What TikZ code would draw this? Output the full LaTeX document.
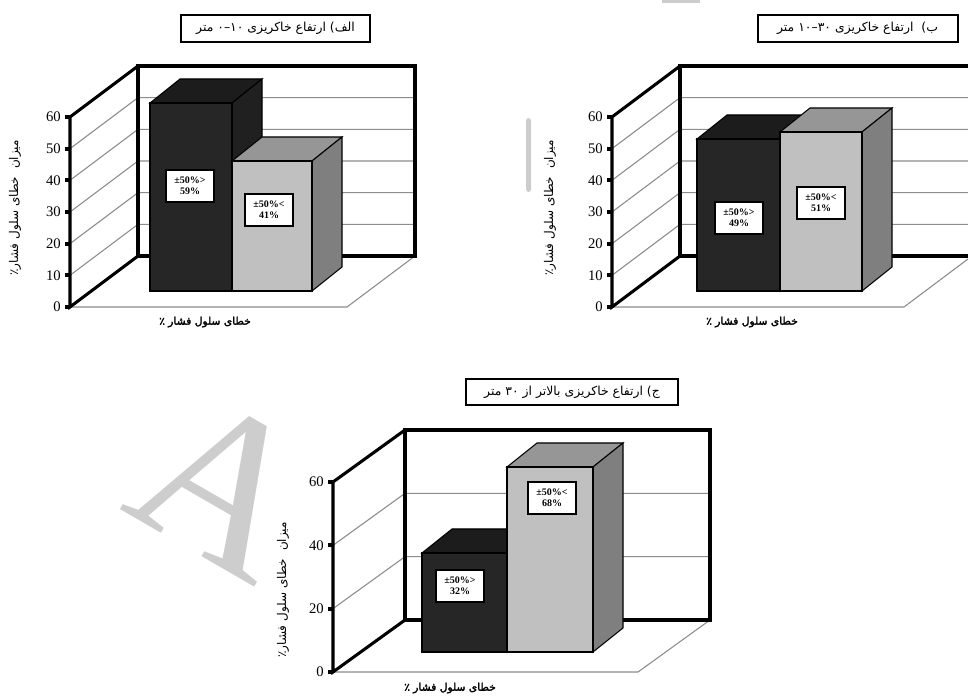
\documentclass[tikz,border=0pt]{standalone}
\usepackage{fontspec}
\setmainfont{Liberation Serif}
\newfontfamily\fa[Script=Arabic]{DejaVu Sans}
\newfontfamily\fab[Script=Arabic,FakeBold=2.5]{DejaVu Sans}
\TeXXeTstate=1

\definecolor{darkfront}{HTML}{262626}
\definecolor{darktop}{HTML}{1C1C1C}
\definecolor{darkside}{HTML}{202020}
\definecolor{lightfront}{HTML}{C0C0C0}
\definecolor{lighttop}{HTML}{969696}
\definecolor{lightside}{HTML}{7F7F7F}
\definecolor{gridgray}{HTML}{8C8C8C}
\definecolor{wmgray}{HTML}{CDCDCD}

\tikzset{
  frame/.style={line width=2.3pt, line join=miter},
  gridln/.style={draw=gridgray, line width=0.8pt},
  tickmk/.style={line width=3pt},
  ticklbl/.style={anchor=east, inner sep=0pt, font=\fontsize{11}{13}\selectfont},
  barln/.style={draw=black, line width=0.8pt},
  vallbl/.style={draw, fill=white, line width=1.3pt, align=center, inner sep=1pt,
    minimum width=36pt, minimum height=24pt,
    font=\bfseries\fontsize{7.5}{8.5}\selectfont},
  ttl/.style={draw, line width=1.5pt, inner sep=2pt, minimum height=20pt,
    font=\fontsize{9.3}{11}\selectfont},
  ylbl/.style={rotate=90, inner sep=0pt, font=\fontsize{9}{11}\selectfont},
  xlbl/.style={inner sep=0pt, font=\fontsize{8}{10}\selectfont},
}

% column with front face, top face and right side face
% #1 left x, #2 right x, #3 top y, #4 bottom y, #5 front, #6 top, #7 side
\newcommand\drawcol[7]{%
  \filldraw[barln, fill=#6] (#1,#3) -- ({#1+30},{#3-24}) -- ({#2+30},{#3-24}) -- (#2,#3) -- cycle;
  \filldraw[barln, fill=#7] (#2,#3) -- ({#2+30},{#3-24}) -- ({#2+30},{#4-24}) -- (#2,#4) -- cycle;
  \filldraw[barln, fill=#5] (#1,#3) rectangle (#2,#4);
}

% frame of a 0..60 chart with ten-step gridlines (top charts)
% #1 right x of the back wall
\newcommand\topframe[1]{%
  \foreach \v in {1,...,5} {
    \draw[gridln] (70,{307-\v*31.667}) -- (138,{256-\v*31.667}) -- (#1,{256-\v*31.667});
  }
  \draw[gridln] (70,307) -- ({#1-68},307) -- (#1,256);
  \draw[frame] (138,66) rectangle (#1,256);
  \draw[frame] (138,256) -- (70,307) -- (70,117) -- (138,66);
  \foreach \v in {0,...,6} {
    \draw[tickmk] (65,{307-\v*31.667}) -- (70,{307-\v*31.667});
  }
}

\begin{document}
\begin{tikzpicture}[x=0.75pt, y=-0.75pt]
\useasboundingbox (0,0) rectangle (968,698);
\fill[white] (0,0) rectangle (968,698);

% faint background lettering
\node[text=wmgray, inner sep=0pt, rotate=-30,
  font=\fontsize{165}{165}\selectfont] (wm) at (224,485) {A};
\fill[wmgray, rounded corners=2pt] (526,118) rectangle (531,192);
\fill[wmgray] (662,0) rectangle (700,3);

% ---------------- chart (a): 0-10 m ----------------
\topframe{415}
\foreach \v/\n in {0/t0,1/t1,2/t2,3/t3,4/t4,5/t5,6/t6} {
  \node[ticklbl] (a\n) at (61,{307-\v*31.667}) {\pgfmathparse{int(\v*10)}\pgfmathresult};
}
\drawcol{150}{232}{103}{291}{darkfront}{darktop}{darkside}
\drawcol{232}{312}{161}{291}{lightfront}{lighttop}{lightside}
\node[vallbl] (a1) at (190,186) {±50\%>\\59\%};
\node[vallbl] (a2) at (269,210) {±50\%<\\41\%};
\node[ttl, minimum width=142pt] (atitle) at (275.5,28.5)
  {\fa\beginR الف) ارتفاع خاکریزی \beginL۱۰–۰\endL{} متر\endR};
\node[ylbl] (ay) at (15,208) {\fa\beginR میزان~~خطای سلول فشار٪\endR};
\node[xlbl] (ax) at (205,322) {\fab\beginR خطای سلول فشار ٪\endR};

% ---------------- chart (b): 10-30 m ----------------
\begin{scope}[shift={(542,0)}]
\topframe{430}
\foreach \v/\n in {0/t0,1/t1,2/t2,3/t3,4/t4,5/t5,6/t6} {
  \node[ticklbl] (b\n) at (61,{307-\v*31.667}) {\pgfmathparse{int(\v*10)}\pgfmathresult};
}
\drawcol{155}{238}{139}{291}{darkfront}{darktop}{darkside}
\drawcol{238}{320}{132}{291}{lightfront}{lighttop}{lightside}
\node[vallbl] (b1) at (197,218) {±50\%>\\49\%};
\node[vallbl] (b2) at (279,203) {±50\%<\\51\%};
\node[ttl, minimum width=150pt] (btitle) at (315.5,28.5)
  {\fa\beginR ب)~ ارتفاع خاکریزی \beginL۳۰–۱۰\endL{} متر\endR};
\node[ylbl] (by) at (8,208) {\fa\beginR میزان~~خطای سلول فشار٪\endR};
\node[xlbl] (bx) at (210,322) {\fab\beginR خطای سلول فشار ٪\endR};
\end{scope}

% ---------------- chart (c): above 30 m ----------------
\foreach \v in {1,2} {
  \draw[gridln] (333,{672-\v*63.333}) -- (405,{620-\v*63.333}) -- (710,{620-\v*63.333});
}
\draw[gridln] (333,672) -- (638,672) -- (710,620);
\draw[frame] (405,430) rectangle (710,620);
\draw[frame] (405,620) -- (333,672) -- (333,482) -- (405,430);
\foreach \v/\n in {0/t0,1/t1,2/t2,3/t3} {
  \draw[tickmk] (328,{672-\v*63.333}) -- (333,{672-\v*63.333});
  \node[ticklbl] (c\n) at (324,{672-\v*63.333}) {\pgfmathparse{int(\v*20)}\pgfmathresult};
}
\drawcol{422}{507}{553}{652}{darkfront}{darktop}{darkside}
\drawcol{507}{593}{467}{652}{lightfront}{lighttop}{lightside}
\node[vallbl] (c1) at (460,586) {±50\%>\\32\%};
\node[vallbl] (c2) at (552,498) {±50\%<\\68\%};
\node[ttl, minimum width=159pt] (ctitle) at (572,392)
  {\fa\beginR ج) ارتفاع خاکریزی بالاتر از \beginL۳۰\endL{} متر\endR};
\node[ylbl] (cy) at (283,590) {\fa\beginR میزان~~خطای سلول فشار٪\endR};
\node[xlbl] (cx) at (450,688) {\fab\beginR خطای سلول فشار ٪\endR};
\end{tikzpicture}
\end{document}
